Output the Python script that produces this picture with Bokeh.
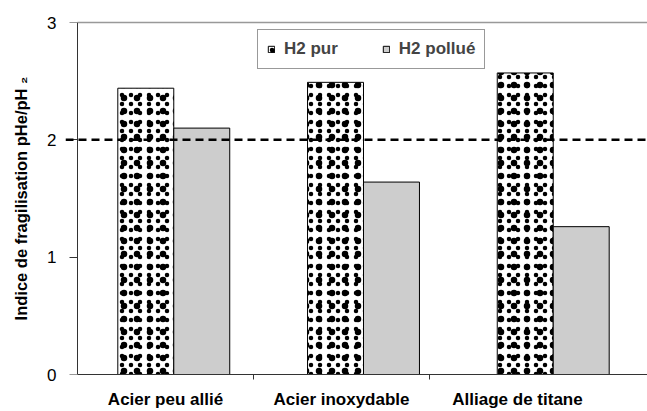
from bokeh.plotting import figure
from bokeh.models import (Range1d, FixedTicker, Legend, LegendItem, Span,
                          LinearAxis)
from bokeh.embed import file_html
from bokeh.resources import INLINE

# Data
categories = ["Acier peu allié", "Acier inoxydable", "Alliage de titane"]
h2_pur = [2.44, 2.49, 2.57]
h2_pollue = [2.10, 1.64, 1.26]
y_ticks = [0, 1, 2, 3]
seuil = 2.0

# Layout helpers (x in "category units")
PX = 176.0                 # pixels per category unit
LEFT = 65                  # frame left edge (dashed line starts here)
W, H = 647, 411
x_start = -12.0 / PX       # y axis line sits 12 px inside the frame
x_end = x_start + (W - LEFT) / PX
bar_w = 0.318
group_step = 1.078
group_first = 0.547
centers = [group_first + i * group_step for i in range(len(categories))]
x_pur = [c - bar_w / 2 for c in centers]
x_pol = [c + bar_w / 2 for c in centers]

FONT = "Liberation Sans"
AXIS_COLOR = "#333333"

p = figure(width=W, height=H, output_backend="svg", toolbar_location=None,
           x_range=Range1d(x_start, x_end), y_range=Range1d(0, 3),
           min_border_left=LEFT, min_border_right=0, min_border_top=22,
           min_border_bottom=37, background_fill_color="white",
           border_fill_color="white", outline_line_color=None)
p.grid.visible = False

# "H2 pur": white bars speckled with two overlaid dot patterns
r_pur = p.vbar(x=x_pur, top=h2_pur, width=bar_w, bottom=0,
               fill_color="white", line_color=None,
               hatch_pattern="dot", hatch_color="black", hatch_scale=9)
r_pur2 = p.vbar(x=x_pur, top=h2_pur, width=bar_w, bottom=0,
                fill_color=None, line_color="black", line_width=1,
                hatch_pattern="dot", hatch_color="black", hatch_scale=13)
r_pol = p.vbar(x=x_pol, top=h2_pollue, width=bar_w, bottom=0,
               fill_color="#cdcdcd", line_color="black", line_width=1)

# threshold line
p.add_layout(Span(location=seuil, dimension="width", line_color="black",
                  line_width=2.5, line_dash="8 5"))

# x axis: labels centred on categories, small ticks between categories
xa = p.xaxis[0]
xa.bounds = (0, x_end)
xa.ticker = FixedTicker(ticks=[i + 0.5 for i in range(len(categories))],
                        minor_ticks=[1, 2])
xa.major_label_overrides = {i + 0.5: c for i, c in enumerate(categories)}
xa.major_tick_line_color = None
xa.minor_tick_out = 5
xa.minor_tick_in = 0
xa.minor_tick_line_color = AXIS_COLOR
xa.axis_line_color = AXIS_COLOR
xa.major_label_text_font = FONT
xa.major_label_text_font_style = "bold"
xa.major_label_text_font_size = "17px"
xa.major_label_text_color = "black"
xa.major_label_standoff = 9

# y axis labels sit on the frame edge ...
ya = p.yaxis[0]
ya.ticker = FixedTicker(ticks=y_ticks, minor_ticks=[])
ya.axis_line_color = None
ya.major_tick_line_color = None
ya.major_label_standoff = 3
ya.major_label_text_font = FONT
ya.major_label_text_font_size = "17px"
ya.major_label_text_color = "black"
ya.axis_label = "Indice de fragilisation pHe/pH ₂"
ya.axis_label_text_font = FONT
ya.axis_label_text_font_style = "bold"
ya.axis_label_text_font_size = "16.5px"
ya.axis_label_text_color = "black"
ya.axis_label_standoff = 14

# ... while the axis line and its ticks are drawn at x = 0
ya_line = LinearAxis(fixed_location=0, ticker=FixedTicker(ticks=y_ticks,
                                                           minor_ticks=[]),
                     axis_line_color=AXIS_COLOR, major_tick_line_color=AXIS_COLOR,
                     major_tick_out=8, major_tick_in=0,
                     major_label_text_font_size="0px",
                     major_label_text_alpha=0)
p.add_layout(ya_line, "left")

# top border line
top = LinearAxis(bounds=(0, x_end), axis_line_color="#999999",
                 axis_line_width=1.5, major_tick_line_color=None,
                 minor_tick_line_color=None, major_label_text_font_size="0px",
                 ticker=FixedTicker(ticks=[]))
p.add_layout(top, "above")

legend = Legend(items=[LegendItem(label="H2 pur", renderers=[r_pur, r_pur2]),
                       LegendItem(label="H2 pollué", renderers=[r_pol])],
                orientation="horizontal", location=(192, 305),
                border_line_color=AXIS_COLOR, border_line_width=1,
                background_fill_color="white", background_fill_alpha=1,
                label_text_font=FONT, label_text_font_style="bold",
                label_text_font_size="17px", glyph_width=8, glyph_height=8,
                label_standoff=9, spacing=44, padding=9, margin=0)
p.add_layout(legend, "center")

open("out.html", "w").write(file_html(p, INLINE))
